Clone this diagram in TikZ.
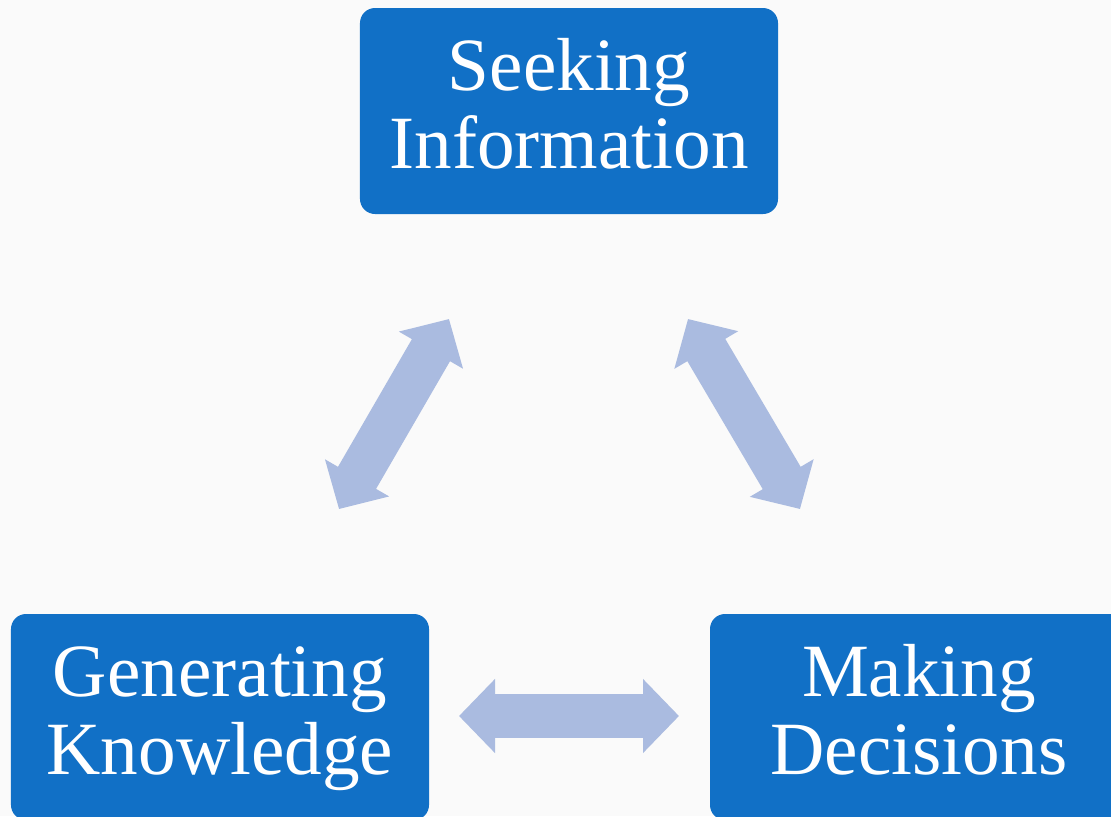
\documentclass[tikz,border=0pt]{standalone}
\usepackage{fontspec}
\setmainfont{Liberation Serif}
\usetikzlibrary{arrows.meta}

\definecolor{boxblue}{RGB}{17,112,198}
\definecolor{arrowblue}{RGB}{170,187,224}
\definecolor{paper}{RGB}{250,250,250}

% strut a little taller above the baseline than the usual one
\newcommand{\textstrut}{\rule[-0.26\baselineskip]{0pt}{\baselineskip}}

\tikzset{
    stage/.style={fill=boxblue, text=white, rounded corners=3.75mm,
        minimum width=104.5mm, minimum height=51.5mm, inner sep=0pt,
        align=center, font=\fontsize{53.5}{55.6}\selectfont},
    link/.style={arrowblue, line width=11mm,
        {Triangle[length=9mm,width=18mm]}-{Triangle[length=9mm,width=18mm]}}
}

\begin{document}
\begin{tikzpicture}[x=0.25mm, y=-0.25mm]
    \fill [paper] (0,0) rectangle (1111,816);
    \clip (0,0) rectangle (1111,816);
    \useasboundingbox (0,0) rectangle (1111,816);

    \node (seek) at (569,111) [stage] {Seeking\textstrut\\Information\textstrut};
    \node (gen) at (220,717) [stage] {Generating\textstrut\\Knowledge\textstrut};
    \node (dec) at (919,717) [stage] {Making\textstrut\\Decisions\textstrut};

    \coordinate (gen-a) at (339,509);
    \coordinate (seek-a) at (449,319);
    \coordinate (seek-b) at (688,319);
    \coordinate (dec-b) at (800,509);
    \coordinate (gen-c) at (459,716);
    \coordinate (dec-c) at (679,716);

    \draw [link] (gen-a) -- (seek-a);
    \draw [link] (seek-b) -- (dec-b);
    \draw [link] (gen-c) -- (dec-c);
\end{tikzpicture}
\end{document}
